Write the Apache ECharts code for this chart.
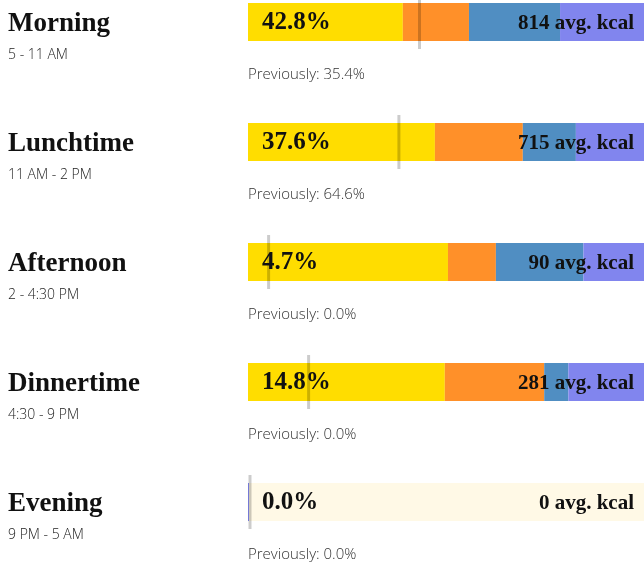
<!DOCTYPE html>
<html>
<head>
<meta charset="utf-8">
<script src="https://cdn.jsdelivr.net/npm/echarts@6/dist/echarts.min.js"></script>
<style>
html,body{margin:0;padding:0;background:#fff;}
#chart{width:644px;height:563px;}
</style>
</head>
<body>
<div id="chart"></div>
<script>
// ---- data ----
var periods = ['Morning', 'Lunchtime', 'Afternoon', 'Dinnertime', 'Evening'];
var timeRanges = ['5 - 11 AM', '11 AM - 2 PM', '2 - 4:30 PM', '4:30 - 9 PM', '9 PM - 5 AM'];
var shareOfDay = [42.8, 37.6, 4.7, 14.8, 0.0];
var previousShare = [35.4, 64.6, 0.0, 0.0, 0.0];
var avgKcal = [814, 715, 90, 281, 0];
// macronutrient split of each bar (percent of bar width)
var yellowPart = [39.1, 47.2, 50.5, 49.7, 0];
var orangePart = [16.7, 22.2, 12.1, 25.1, 0];
var bluePart   = [23.0, 13.4, 22.1, 6.1, 0];
var purplePart = [21.2, 17.2, 15.3, 19.1, 0];

var SERIF = '"Liberation Serif", "DejaVu Serif", serif';
var SANS = '"Open Sans", Lato, sans-serif';
var BAR_W = 38;

function full() { return periods.map(function () { return 100; }); }

function macro(name, data, color, extra) {
  var s = {
    name: name, type: 'bar', stack: 'macro', data: data,
    barWidth: BAR_W, barGap: '-100%', z: 2,
    itemStyle: { color: color }, silent: true
  };
  for (var k in extra) s[k] = extra[k];
  return s;
}

function carrier(label) {
  return {
    type: 'bar', data: full(), barWidth: BAR_W, barGap: '-100%', z: 5, silent: true,
    itemStyle: { color: 'rgba(0,0,0,0)' }, label: label
  };
}

var chart = echarts.init(document.getElementById('chart'), null, { renderer: 'canvas' });
chart.setOption({
  animation: false,
  grid: { left: 248, right: 0, top: 22, height: 480 },
  xAxis: { type: 'value', min: 0, max: 100, show: false },
  yAxis: { type: 'category', data: periods, inverse: true, boundaryGap: false, show: false },
  series: [
    {
      name: 'empty', type: 'bar', data: full(), barWidth: BAR_W, barGap: '-100%', z: 1, silent: true,
      itemStyle: {
        color: function (p) { return avgKcal[p.dataIndex] === 0 ? '#FFF9E6' : 'rgba(0,0,0,0)'; }
      }
    },
    macro('carbs', yellowPart, '#FFDD00'),
    macro('fat', orangePart, '#FF9029'),
    macro('protein', bluePart, '#508EC2'),
    macro('sugar', purplePart, '#8185EE', { barMinHeight: 1 }),
    {
      name: 'marker', type: 'scatter', z: 3, silent: true,
      data: shareOfDay.map(function (v, i) { return [v, i]; }),
      symbol: 'rect', symbolSize: [3, 54], symbolOffset: [2, 0],
      itemStyle: { color: 'rgba(0,0,0,0.25)' }
    },
    carrier({
      show: true, position: [14, 20], align: 'left', verticalAlign: 'middle',
      formatter: function (p) { return shareOfDay[p.dataIndex].toFixed(1) + '%'; },
      fontFamily: SERIF, fontWeight: 'bold', fontSize: 25, color: '#111'
    }),
    carrier({
      show: true, position: 'insideRight', distance: 10, offset: [0, 2],
      formatter: function (p) { return avgKcal[p.dataIndex] + ' avg. kcal'; },
      fontFamily: SERIF, fontWeight: 'bold', fontSize: 21, color: '#111'
    }),
    carrier({
      show: true, position: [-240, 6], align: 'left', verticalAlign: 'top',
      formatter: function (p) {
        return '{t|' + periods[p.dataIndex] + '}\n{s|' + timeRanges[p.dataIndex] + '}';
      },
      rich: {
        t: { fontFamily: SERIF, fontWeight: 'bold', fontSize: 27, lineHeight: 30, color: '#111' },
        s: { fontFamily: SANS, fontWeight: 300, fontSize: 14, lineHeight: 32, color: '#222' }
      }
    }),
    carrier({
      show: true, position: [0, 72], align: 'left', verticalAlign: 'middle',
      formatter: function (p) { return 'Previously: ' + previousShare[p.dataIndex].toFixed(1) + '%'; },
      fontFamily: SANS, fontWeight: 300, fontSize: 15, color: '#333'
    })
  ]
});
</script>
</body>
</html>
